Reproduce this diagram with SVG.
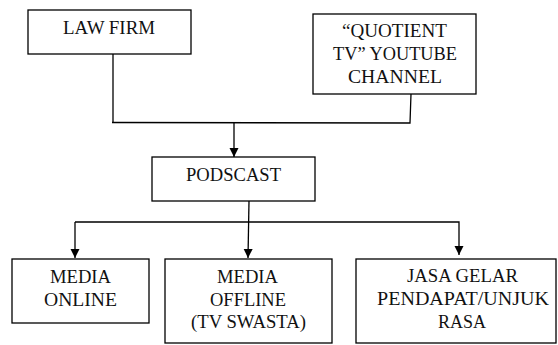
<svg xmlns="http://www.w3.org/2000/svg" width="558" height="345" viewBox="0 0 558 345">
<defs>
<marker id="arr" markerWidth="10" markerHeight="10" refX="9" refY="4.5" orient="auto" markerUnits="userSpaceOnUse">
<path d="M0,0 L9,4.5 L0,9 Z" fill="#000"/>
</marker>
<style>
.box{fill:#fff;stroke:#000;stroke-width:1.3}
.t{font-family:"Liberation Serif","Times New Roman",serif;font-size:18.5px;fill:#111;text-anchor:middle}
.c{fill:none;stroke:#000;stroke-width:1.3}
</style>
</defs>
<rect width="558" height="345" fill="#fff"/>
<g id="connectors">
<polyline class="c" points="113,54 113,122.5"/>
<polyline class="c" points="411,94 410,123 112,122.5"/>
<line class="c" x1="234" y1="122.5" x2="234" y2="157" marker-end="url(#arr)"/>
<line class="c" x1="249" y1="201" x2="248" y2="258" marker-end="url(#arr)"/>
<polyline class="c" points="75,222 459,222 459,255" marker-end="url(#arr)"/>
<line class="c" x1="75" y1="222" x2="75" y2="258" marker-end="url(#arr)"/>
</g>
<g id="law-firm">
<rect class="box" x="28" y="10" width="163" height="44"/>
<text class="t" x="109" y="34" textLength="92" lengthAdjust="spacingAndGlyphs">LAW FIRM</text>
</g>
<g id="quotient">
<rect class="box" x="313" y="14" width="163" height="80"/>
<text class="t" x="394.5" y="37" textLength="105" lengthAdjust="spacingAndGlyphs">“QUOTIENT</text>
<text class="t" x="395" y="60" textLength="124" lengthAdjust="spacingAndGlyphs">TV” YOUTUBE</text>
<text class="t" x="395" y="83" textLength="94" lengthAdjust="spacingAndGlyphs">CHANNEL</text>
</g>
<g id="podscast">
<rect class="box" x="152" y="157" width="163" height="44"/>
<text class="t" x="233.5" y="181" textLength="95" lengthAdjust="spacingAndGlyphs">PODSCAST</text>
</g>
<g id="media-online">
<rect class="box" x="12" y="259" width="137" height="64"/>
<text class="t" x="80.5" y="283" textLength="61" lengthAdjust="spacingAndGlyphs">MEDIA</text>
<text class="t" x="80.5" y="306" textLength="73" lengthAdjust="spacingAndGlyphs">ONLINE</text>
</g>
<g id="media-offline">
<rect class="box" x="165" y="259" width="167" height="84"/>
<text class="t" x="247.5" y="283" textLength="61" lengthAdjust="spacingAndGlyphs">MEDIA</text>
<text class="t" x="248" y="306" textLength="76" lengthAdjust="spacingAndGlyphs">OFFLINE</text>
<text class="t" x="248.5" y="328" textLength="115" lengthAdjust="spacingAndGlyphs">(TV SWASTA)</text>
</g>
<g id="jasa">
<rect class="box" x="356" y="259" width="200" height="84"/>
<text class="t" x="462.5" y="282" textLength="111" lengthAdjust="spacingAndGlyphs">JASA GELAR</text>
<text class="t" x="463" y="305" textLength="172" lengthAdjust="spacingAndGlyphs">PENDAPAT/UNJUK</text>
<text class="t" x="462" y="328" textLength="48" lengthAdjust="spacingAndGlyphs">RASA</text>
</g>
</svg>
